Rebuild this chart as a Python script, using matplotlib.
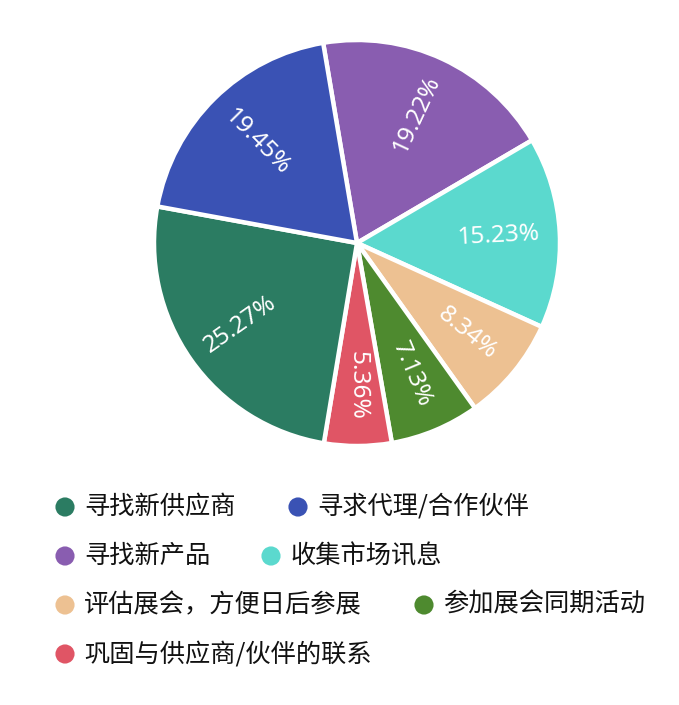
import numpy as np
import matplotlib
matplotlib.use('Agg')
import matplotlib.pyplot as plt

plt.rcParams['font.family'] = ['Noto Sans CJK SC', 'DejaVu Sans']

#data
names = ['寻找新供应商', '寻求代理/合作伙伴', '寻找新产品', '收集市场讯息',
         '评估展会，方便日后参展', '参加展会同期活动', '巩固与供应商/伙伴的联系']
values = [25.27, 19.45, 19.22, 15.23, 8.34, 7.13, 5.36]
colors = ['#2b7c62', '#3a52b4', '#895db0', '#5bd9ce', '#edc192', '#4e8a2f', '#e05565']

#pie drawn clockwise, purple first at the top, so reorder
order = [2, 3, 4, 5, 6, 0, 1]
W, H = 679, 705
fig = plt.figure(figsize=(W/100, H/100), dpi=100)

cx, cy, R = 357, 243, 203
ax = fig.add_axes([(cx-R)/W, (H-cy-R)/H, 2*R/W, 2*R/H])
wedges, _ = ax.pie([values[i] for i in order], colors=[colors[i] for i in order],
                   startangle=99.6, counterclock=False, radius=1,
                   wedgeprops=dict(edgecolor='white', linewidth=3.2))
ax.set_xlim(-1, 1)
ax.set_ylim(-1, 1)
ax.set_aspect('equal')
ax.axis('off')

#radial labels inside slices
for w, i in zip(wedges, order):
    mid = (w.theta1 + w.theta2) / 2
    a = np.deg2rad(mid)
    rot = mid
    rot = (rot + 180) % 360 - 180
    if rot > 90:
        rot -= 180
    elif rot < -90:
        rot += 180
    ax.text(0.70*np.cos(a), 0.70*np.sin(a), f'{values[i]:.2f}%', color='white',
            fontsize=17.6, family=['Noto Sans', 'DejaVu Sans'], weight='medium',
            rotation=rot, rotation_mode='anchor', ha='center', va='center')

#legend (flow layout like the original)
lg = fig.add_axes([0, 0, 1, 1])
lg.set_xlim(0, W)
lg.set_ylim(H, 0)
lg.axis('off')
leg_pos = [(65, 507), (298, 507), (65, 556), (271, 556), (65, 605), (424, 605), (65, 654)]
for (x, y), n, c in zip(leg_pos, names, colors):
    lg.scatter([x], [y], s=190, color=c, edgecolor='none')
    lg.text(x+19, y, n, fontsize=18.2, weight='medium', va='center', ha='left',
            color='#111111')

plt.savefig('out.png', dpi=100)
